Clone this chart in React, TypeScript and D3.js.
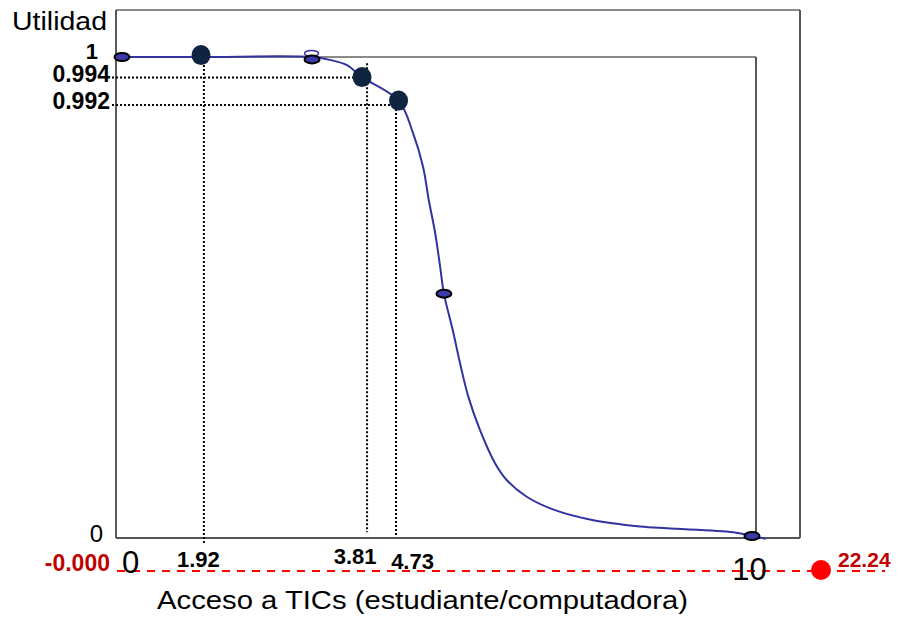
import React from "react";
import * as d3 from "d3";

// ---- data ----
const curveX = [0, 1.254, 3.016, 3.3, 3.57, 3.81, 4.39, 4.62, 4.78, 4.87, 4.97, 5.05, 5.11, 5.25, 5.365, 5.497, 5.683, 5.921, 6.106, 6.424, 6.873, 7.481, 8.222, 8.65, 9.7, 10, 10.22];
const curveY = [1, 1, 1, 0.994, 0.983, 0.958, 0.909, 0.841, 0.77, 0.701, 0.633, 0.562, 0.506, 0.43, 0.361, 0.291, 0.221, 0.152, 0.117, 0.082, 0.054, 0.033, 0.02, 0.016, 0.008, 0, -0.006];

const markerX = [0, 3.016, 5.11, 10];
const markerY = [1, 0.995, 0.506, 0];

const keyX = [1.254, 3.81, 4.39];
const keyY = [1.004, 0.958, 0.909];

const guideLabelsX = ["1.92", "3.81", "4.73"];
const guideX = [1.3, 3.89, 4.35];
const guideTopY = [1.0, 0.987, 0.9];
const guideBottomY = [-0.015, 0.008, -0.002];

const guideLabelsY = ["0.994", "0.992"];
const guideY = [0.957, 0.9];
const guideRightX = [3.89, 4.35];

const yAxisLabels = ["1", "0"];
const yAxisValues = [1, 0];
const xAxisLabels = ["0", "10"];
const xAxisValues = [0, 10];

const redLeftLabel = "-0.000";
const redValue = 22.24;
const redDomain = [0, 23.25];

// ---- layout ----
const W = 907;
const H = 619;
const frame = { left: 116, top: 10, right: 800, bottom: 538 };
const guideLabelDx = [-5.5, -12, 16.5];
const guideLabelBase = [567, 564, 569];
const FONT = "'Liberation Sans', Arial, Helvetica, sans-serif";

export default function App() {
  const x = d3.scaleLinear().domain([0, 10]).range([122, 752]);
  const y = d3.scaleLinear().domain([0, 1]).range([536, 57]);
  const xr = d3.scaleLinear().domain(redDomain).range([117, 853]);
  const redY = 571;

  const pts: [number, number][] = curveX.map((v, i) => [v, curveY[i]]);
  const line = d3
    .line<[number, number]>()
    .x((d) => x(d[0]))
    .y((d) => y(d[1]))
    .curve(d3.curveCatmullRom.alpha(0.5));

  const innerRight = x(10) + 4;

  return (
    <div style={{ position: "absolute", left: 0, top: 0 }}>
      <svg width={W} height={H} style={{ display: "block", background: "#fff" }} fontFamily={FONT}>
        {/* outer frame */}
        <line x1={frame.left} x2={frame.right} y1={frame.top} y2={frame.top} stroke="#8a8a8a" strokeWidth={2} />
        <line x1={frame.left} x2={frame.left} y1={frame.top} y2={frame.bottom} stroke="#222" strokeWidth={1.5} />
        <line x1={frame.right} x2={frame.right} y1={frame.top} y2={frame.bottom} stroke="#222" strokeWidth={1.5} />
        {/* inner rect (data domain) */}
        <line x1={x(0)} x2={innerRight} y1={y(1)} y2={y(1)} stroke="#8a8a8a" strokeWidth={2} />
        <line x1={innerRight} x2={innerRight} y1={y(1)} y2={frame.bottom} stroke="#222" strokeWidth={1.5} />
        {/* bottom axis */}
        <line x1={frame.left} x2={frame.right} y1={frame.bottom} y2={frame.bottom} stroke="#555" strokeWidth={2} />

        {/* dotted guides */}
        {guideX.map((g, i) => (
          <line key={"gv" + i} x1={x(g)} x2={x(g)} y1={y(guideTopY[i])} y2={y(guideBottomY[i])}
            stroke="#000" strokeWidth={2} strokeDasharray="2 2" />
        ))}
        {guideY.map((g, i) => (
          <line key={"gh" + i} x1={112} x2={x(guideRightX[i])} y1={y(g)} y2={y(g)}
            stroke="#000" strokeWidth={2} strokeDasharray="2 2" />
        ))}

        {/* curve */}
        <path d={line(pts) || ""} fill="none" stroke="#3232a0" strokeWidth={2} />
        {/* spline loop artifact */}
        <ellipse cx={x(markerX[1]) - 0.5} cy={y(markerY[1]) - 6} rx={7} ry={3} fill="none" stroke="#3232a0" strokeWidth={1.5} />

        {/* small markers */}
        {markerX.map((m, i) => (
          <ellipse key={"m" + i} cx={x(m)} cy={y(markerY[i])} rx={7.5} ry={4} fill="#3a3aa8" stroke="#000" strokeWidth={2} />
        ))}
        {/* key points */}
        {keyX.map((k, i) => (
          <ellipse key={"k" + i} cx={x(k)} cy={y(keyY[i])} rx={9.5} ry={10} fill="#0f2440" />
        ))}

        {/* y labels */}
        <text x={107} y={30} fontSize={26} textLength={95} lengthAdjust="spacingAndGlyphs" textAnchor="end">Utilidad</text>
        <text x={98} y={y(yAxisValues[0]) + 2} fontSize={22} fontWeight="bold" textAnchor="end">{yAxisLabels[0]}</text>
        <text x={103} y={y(yAxisValues[1]) + 6} fontSize={24} textAnchor="end">{yAxisLabels[1]}</text>
        {guideLabelsY.map((t, i) => (
          <text key={"gly" + i} x={110} y={y(guideY[i]) + 4} fontSize={23} fontWeight="bold" textAnchor="end">{t}</text>
        ))}

        {/* red reference line */}
        <line x1={xr(redDomain[0])} x2={xr(redDomain[1]) + 32} y1={redY} y2={redY} stroke="#ff0000" strokeWidth={2} strokeDasharray="8 7" />
        <text x={110} y={571} fontSize={23} fontWeight="bold" fill="#c00000" textAnchor="end">{redLeftLabel}</text>
        <circle cx={xr(redValue)} cy={redY - 1} r={10} fill="#ff0000" />
        <text x={xr(redValue) + 17} y={567} fontSize={21} fontWeight="bold" fill="#c00000">{redValue.toFixed(2)}</text>

        {/* x labels */}
        <text x={x(xAxisValues[0])} y={573} fontSize={31}>{xAxisLabels[0]}</text>
        <text x={x(xAxisValues[1]) - 2.5} y={580} fontSize={31} textAnchor="middle">{xAxisLabels[1]}</text>
        {guideLabelsX.map((t, i) => (
          <text key={"glx" + i} x={x(guideX[i]) + guideLabelDx[i]} y={guideLabelBase[i]} fontSize={22} fontWeight="bold" textAnchor="middle">{t}</text>
        ))}

        {/* axis title */}
        <text x={422.5} y={609} fontSize={26} textLength={531} lengthAdjust="spacingAndGlyphs" textAnchor="middle">
          Acceso a TICs (estudiante/computadora)
        </text>
      </svg>
    </div>
  );
}
